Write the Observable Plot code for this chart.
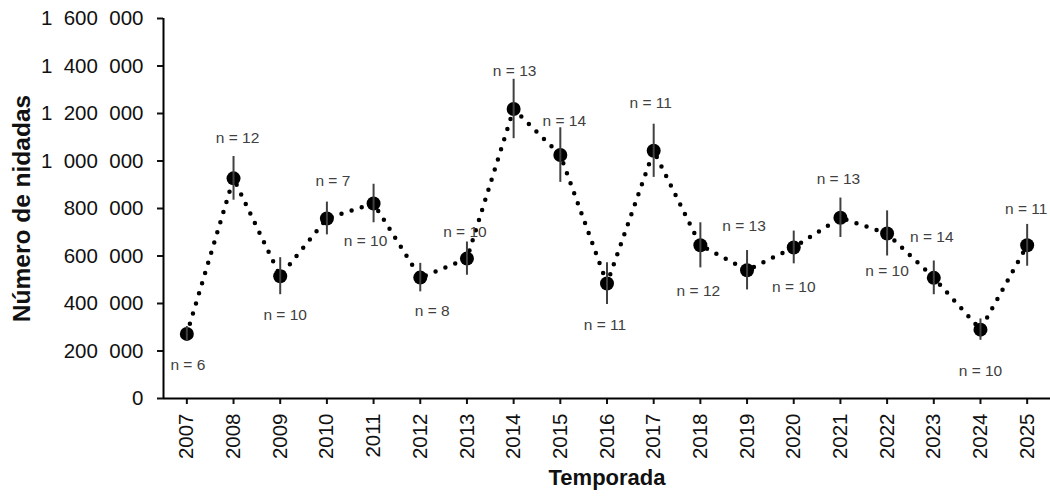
<!DOCTYPE html>
<html>
<head>
<meta charset="utf-8">
<script src="https://cdn.jsdelivr.net/npm/d3@7"></script>
<script src="https://cdn.jsdelivr.net/npm/@observablehq/plot@0.6"></script>
<style>
  html, body { margin: 0; padding: 0; background: #fff; }
  #chart svg { display: block; }
</style>
</head>
<body>
<div id="chart"></div>
<script>
// ---- data ----
const years = [2007, 2008, 2009, 2010, 2011, 2012, 2013, 2014, 2015, 2016, 2017, 2018, 2019, 2020, 2021, 2022, 2023, 2024, 2025];
const nidadas = [272000, 927000, 515000, 758000, 821000, 509000, 589000, 1219000, 1025000, 484000, 1043000, 645000, 540000, 636000, 761000, 695000, 508000, 290000, 645000];
const errores = [31000, 92000, 78000, 69000, 81000, 60000, 70000, 125000, 115000, 88000, 112000, 95000, 83000, 69000, 83000, 95000, 71000, 45000, 88000];
const nMuestras = [6, 12, 10, 7, 10, 8, 10, 13, 14, 11, 11, 12, 13, 10, 13, 10, 14, 10, 11];
const yTicks = [0, 200000, 400000, 600000, 800000, 1000000, 1200000, 1400000, 1600000];

const data = years.map((y, i) => ({year: y, value: nidadas[i], err: errores[i], n: nMuestras[i]}));

// label offsets (screen pixels) relative to each point
const labelOffsets = {
  2007: [1, 31], 2008: [4, -40], 2009: [5, 39], 2010: [6, -37], 2011: [-8, 38],
  2012: [12, 33], 2013: [-2, -27], 2014: [1, -38], 2015: [4, -34], 2016: [-2, 41],
  2017: [-3, -48], 2018: [-2, 46], 2019: [-3, -44], 2020: [0, 40], 2021: [-2, -39],
  2022: [0, 38], 2023: [-2, -41], 2024: [0, 41], 2025: [-1, -36]
};

const font = "'Liberation Sans', Arial, sans-serif";
const fmt = d => d3.format(",")(d).replace(/,/g, "\u2007");

const labelMarks = data.map(d => Plot.text([d], {
  x: "year", y: "value", text: v => `n = ${v.n}`,
  dx: labelOffsets[d.year][0], dy: labelOffsets[d.year][1],
  fontSize: 15.5, fill: "#404040", fontFamily: font, lineAnchor: "middle"
}));

const chart = Plot.plot({
  width: 1050,
  height: 497,
  marginLeft: 163,
  marginRight: 0,
  marginTop: 18,
  marginBottom: 99,
  style: {fontFamily: font, color: "#111", background: "#fff", overflow: "visible"},
  x: {type: "linear", domain: [2006.5, 2025.5]},
  y: {domain: [0, 1600000]},
  marks: [
    Plot.axisY({ticks: yTicks, tickFormat: fmt, tickSize: 6, tickPadding: 14, fontSize: 20.5, strokeWidth: 2, label: null}),
    Plot.axisX({ticks: years, tickFormat: d => String(d), tickSize: 6, tickPadding: 9, tickRotate: -90, fontSize: 20.5, strokeWidth: 2, label: null}),
    Plot.ruleX([2006.5], {stroke: "#000", strokeWidth: 2}),
    Plot.ruleY([0], {stroke: "#000", strokeWidth: 2}),
    Plot.line(data, {x: "year", y: "value", stroke: "#000", strokeWidth: 4.5, strokeDasharray: "0,10.6", strokeLinecap: "round"}),
    Plot.dot(data, {x: "year", y: "value", r: 7, fill: "#000"}),
    Plot.ruleX(data, {x: "year", y1: d => d.value - d.err, y2: d => d.value + d.err, stroke: "#404040", strokeWidth: 2}),
    ...labelMarks,
    Plot.text(["Número de nidadas"], {frameAnchor: "left", textAnchor: "middle", rotate: -90, dx: -141, fontSize: 24.5, fontWeight: "bold", fill: "#111", fontFamily: font}),
    Plot.text(["Temporada"], {frameAnchor: "bottom", textAnchor: "middle", dy: 86, fontSize: 22, fontWeight: "bold", fill: "#111", fontFamily: font})
  ]
});

document.getElementById("chart").appendChild(chart);
</script>
</body>
</html>
